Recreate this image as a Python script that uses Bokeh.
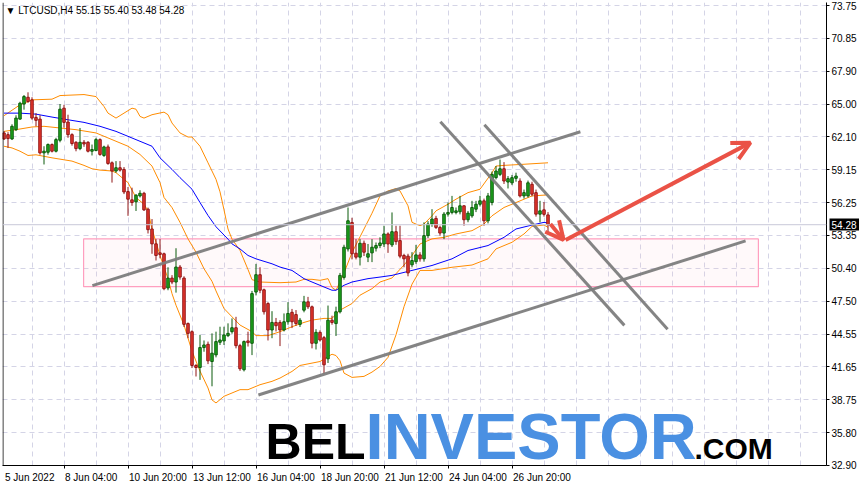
from bokeh.plotting import figure
from bokeh.models import (Range1d, FixedTicker, PrintfTickFormatter, Span, Label,
                          Arrow, OpenHead, ColumnDataSource, LinearAxis)
from bokeh.core.properties import value
from bokeh.embed import file_html
from bokeh.resources import INLINE

# ---------------- data (H4 bars, LTCUSD) ----------------
opens = [62.43, 62.28, 61.90, 62.72, 63.66, 65.00, 65.60, 65.37, 63.81, 63.66,
         60.66, 60.72, 61.40, 60.81, 61.78, 64.63, 63.40, 62.28, 61.60, 61.04,
         61.60, 61.60, 60.81, 60.87, 61.84, 60.43, 61.19, 59.78, 59.05, 59.34,
         59.19, 57.22, 56.49, 56.31, 56.84, 57.07, 55.66, 53.90, 52.58, 51.78,
         51.70, 48.66, 49.54, 49.19, 50.52, 49.54, 45.50, 44.78, 41.78, 41.60,
         43.37, 43.66, 42.13, 42.72, 43.84, 43.96, 44.43, 44.78, 45.13, 43.54,
         41.40, 43.96, 43.75, 48.30, 49.84, 48.50, 47.28, 44.93, 45.60, 45.60,
         44.93, 45.66, 46.50, 46.30, 45.43, 46.69, 47.43, 46.99, 43.75, 44.72,
         44.25, 42.37, 45.80, 45.50, 46.55, 49.60, 52.13, 54.48, 51.75, 51.40,
         52.63, 51.40, 51.78, 52.20, 52.43, 52.57, 53.46, 52.49, 53.66, 52.87,
         51.55, 51.49, 50.72, 51.00, 51.60, 51.25, 53.31, 54.34, 54.84, 54.04,
         53.54, 55.22, 55.37, 55.37, 55.43, 55.96, 54.72, 55.07, 55.66, 56.10,
         56.40, 54.63, 56.25, 58.46, 58.75, 59.25, 58.07, 58.00, 58.40, 58.16,
         56.84, 56.84, 57.87, 57.13, 55.22, 55.60, 55.15]
highs = [62.60, 62.50, 63.20, 64.00, 65.20, 65.80, 66.04, 65.60, 64.19, 64.00,
         61.25, 61.50, 61.50, 62.00, 65.00, 64.93, 64.05, 62.40, 61.70, 62.87,
         61.80, 61.70, 61.40, 62.00, 61.95, 61.30, 61.40, 59.90, 59.93, 59.93,
         59.40, 57.63, 57.57, 57.00, 57.34, 57.20, 55.80, 54.78, 53.00, 53.00,
         51.80, 50.50, 49.80, 52.19, 50.70, 49.70, 45.60, 44.90, 41.90, 44.50,
         44.00, 43.90, 44.63, 44.78, 45.22, 45.22, 45.52, 45.96, 46.10, 43.70,
         44.00, 44.78, 48.40, 50.80, 50.50, 48.60, 47.40, 46.60, 46.00, 45.80,
         46.40, 47.40, 46.80, 46.70, 46.00, 47.96, 47.87, 47.10, 45.00, 44.90,
         44.40, 47.10, 46.20, 47.00, 50.00, 52.50, 55.81, 54.90, 53.00, 53.00,
         52.87, 52.57, 53.00, 52.70, 53.16, 54.19, 53.60, 55.37, 54.19, 54.19,
         51.70, 51.70, 51.84, 52.49, 51.84, 54.49, 54.60, 55.66, 55.07, 54.20,
         55.40, 56.25, 56.84, 55.81, 56.84, 56.00, 55.50, 56.40, 56.40, 56.84,
         56.60, 57.10, 59.00, 59.49, 60.07, 59.84, 58.60, 58.70, 58.90, 58.40,
         57.40, 58.20, 58.10, 57.40, 56.40, 56.30, 55.40]
lows = [61.80, 61.10, 61.80, 62.60, 63.60, 64.50, 65.10, 63.60, 63.02, 60.50,
        59.63, 60.50, 60.70, 60.70, 61.60, 62.90, 62.00, 61.30, 60.80, 60.90,
        61.20, 60.70, 60.43, 60.80, 60.40, 60.30, 59.60, 58.02, 58.90, 59.00,
        57.00, 55.07, 55.96, 55.50, 56.70, 55.50, 53.50, 51.70, 51.10, 51.30,
        48.46, 48.46, 49.00, 48.25, 49.40, 45.20, 44.20, 41.55, 40.80, 40.50,
        43.00, 41.90, 39.93, 42.50, 43.60, 43.60, 44.30, 44.60, 43.30, 41.30,
        41.25, 43.46, 42.70, 48.00, 48.20, 46.30, 44.00, 44.20, 44.80, 43.50,
        44.80, 45.40, 45.10, 45.30, 45.20, 46.50, 46.80, 43.30, 43.20, 43.90,
        41.00, 42.00, 45.40, 44.40, 46.40, 49.40, 51.90, 51.20, 51.20, 50.66,
        51.50, 50.96, 50.96, 51.90, 52.20, 52.30, 51.78, 52.30, 52.50, 51.30,
        50.50, 49.70, 50.50, 50.80, 51.00, 51.00, 53.10, 54.10, 53.90, 53.30,
        53.00, 55.00, 55.20, 55.20, 55.20, 54.19, 54.50, 54.90, 55.40, 55.90,
        54.19, 54.40, 56.00, 58.30, 58.60, 57.90, 57.50, 57.80, 58.10, 56.70,
        56.60, 56.70, 56.80, 55.00, 54.49, 55.00, 53.48]
closes = [61.90, 61.93, 63.02, 63.75, 65.07, 65.66, 65.22, 63.75, 63.55, 60.66,
          60.81, 61.40, 60.81, 61.84, 64.54, 63.37, 62.28, 61.49, 61.04, 61.60,
          61.45, 60.81, 60.96, 61.84, 60.52, 61.19, 59.72, 59.05, 59.34, 59.13,
          57.19, 56.55, 56.25, 56.90, 57.07, 55.60, 53.84, 52.58, 51.55, 51.64,
          48.60, 49.54, 49.19, 50.52, 49.63, 45.43, 44.63, 41.78, 41.60, 43.37,
          43.60, 42.19, 42.87, 43.90, 44.04, 44.49, 44.63, 45.13, 43.54, 41.49,
          43.90, 43.81, 48.16, 49.84, 48.46, 46.55, 44.93, 45.60, 45.31, 44.93,
          45.66, 46.40, 45.66, 45.50, 45.80, 47.43, 46.99, 43.75, 44.72, 44.04,
          41.84, 45.80, 45.60, 46.55, 49.78, 52.28, 54.63, 51.70, 51.40, 52.63,
          51.84, 51.70, 52.28, 52.43, 52.66, 53.46, 52.57, 53.66, 52.78, 51.49,
          51.25, 50.00, 51.10, 51.60, 51.25, 53.31, 54.34, 54.78, 54.04, 53.54,
          55.22, 55.37, 55.81, 55.51, 55.96, 54.72, 55.31, 55.81, 56.10, 56.40,
          54.63, 56.84, 58.75, 59.05, 59.25, 58.16, 58.37, 58.46, 58.60, 56.84,
          57.13, 58.00, 56.99, 55.22, 55.51, 55.20, 54.28]

# Bollinger bands (20) and moving average, read at sampled bars
upper_idx = [0, 4, 7, 12, 14, 20, 23, 25, 26, 28, 30, 32, 33, 34, 35, 37, 40, 41, 42, 44,
             46, 47, 49, 51, 53, 54, 55, 56, 57, 59, 61, 62, 64, 69, 73, 75, 77, 79, 81, 82,
             83, 84, 85, 87, 89, 92, 94, 96, 98, 99, 101, 102, 104, 105, 107, 108, 111, 113,
             116, 119, 122, 123, 125, 130, 136]
upper_val = [63.96, 64.93, 65.37, 65.43, 65.75, 65.84, 65.66, 64.78, 64.19, 63.75, 64.19,
             64.63, 64.54, 63.90, 63.75, 64.05, 64.28, 64.05, 63.31, 62.43, 62.07, 62.07,
             61.25, 59.78, 58.31, 57.20, 55.60, 53.90, 53.00, 52.00, 50.30, 49.40, 49.19,
             49.13, 49.19, 49.43, 49.43, 49.34, 49.49, 48.70, 48.46, 49.20, 50.00, 51.80,
             53.20, 55.30, 56.84, 57.28, 57.49, 57.28, 55.96, 54.49, 54.19, 54.34, 55.07,
             55.51, 56.10, 56.55, 57.13, 57.43, 58.90, 59.49, 59.55, 59.65, 59.78]
middle_idx = [0, 3, 7, 10, 14, 18, 23, 27, 31, 34, 37, 39, 40, 42, 44, 46, 48, 50, 52, 53,
              55, 57, 59, 62, 63, 66, 69, 72, 75, 77, 80, 82, 84, 87, 89, 92, 94, 97, 100,
              102, 104, 107, 110, 113, 117, 120, 122, 125, 128, 132, 136]
middle_val = [62.57, 62.72, 62.96, 63.02, 62.87, 62.72, 62.43, 61.84, 61.25, 60.52, 59.49,
              58.02, 56.70, 55.80, 54.49, 53.02, 51.84, 50.37, 49.25, 48.40, 46.84, 46.10,
              45.37, 44.78, 44.43, 44.43, 44.78, 45.22, 45.60, 45.81, 45.96, 45.96, 46.69,
              47.28, 48.02, 48.60, 49.19, 49.55, 50.70, 51.55, 52.57, 53.02, 53.16, 53.46,
              53.75, 54.34, 55.07, 55.81, 56.25, 56.84, 56.93]
lower_idx = [0, 2, 4, 6, 8, 12, 17, 20, 22, 24, 27, 28, 31, 33, 35, 36, 37, 39, 41, 42,
             43, 45, 47, 49, 51, 52, 53, 55, 59, 61, 64, 67, 69, 72, 74, 77, 79, 81, 82, 83,
             84, 85, 87, 90, 92, 94, 96, 98, 100, 102, 104, 107, 112, 117, 121, 123, 127,
             130, 132, 135, 136]
lower_val = [61.25, 61.10, 60.81, 60.43, 60.49, 60.22, 59.93, 59.55, 59.25, 59.13, 59.05,
             58.90, 58.02, 56.69, 56.10, 55.51, 53.90, 51.55, 49.49, 48.16, 47.13, 45.37,
             43.05, 41.28, 39.78, 38.72, 38.45, 39.04, 39.63, 39.63, 40.07, 40.37, 40.66,
             41.25, 41.78, 41.99, 42.13, 42.57, 42.78, 42.66, 42.20, 41.10, 40.72, 40.81,
             41.19, 41.69, 42.50, 44.50, 47.00, 49.00, 50.22, 50.22, 50.50, 50.70, 51.25,
             52.13, 52.72, 53.46, 54.13, 54.25, 54.05]
ma_idx = [0, 4, 8, 12, 16, 20, 24, 28, 31, 34, 37, 39, 42, 44, 47, 49, 51, 53, 56, 57,
          59, 61, 63, 67, 69, 72, 75, 77, 80, 82, 83, 85, 87, 91, 94, 97, 102, 107, 112,
          116, 121, 125, 128, 132, 135, 136]
ma_val = [64.19, 64.19, 64.10, 63.84, 63.60, 63.37, 63.02, 62.57, 62.13, 61.69, 61.25,
          60.22, 59.19, 58.46, 57.43, 56.25, 55.10, 54.10, 53.00, 52.58, 52.13, 51.55,
          51.25, 50.81, 50.52, 50.22, 49.49, 49.19, 48.75, 48.46, 48.46, 48.90, 49.19,
          49.49, 49.63, 49.78, 50.22, 50.66, 51.25, 51.99, 52.43, 53.16, 53.90, 54.25,
          54.49, 54.43]

# axis ticks
price_ticks = [73.75, 70.85, 67.90, 65.00, 62.10, 59.15, 56.25, 53.35, 50.40, 47.50,
               44.55, 41.65, 38.75, 35.80, 32.90]
time_tick_bars = [0, 15, 31, 47, 63, 79, 95, 111, 127]
time_tick_labels = ["5 Jun 2022", "8 Jun 04:00", "10 Jun 20:00", "13 Jun 12:00",
                    "16 Jun 04:00", "18 Jun 20:00", "21 Jun 12:00", "24 Jun 04:00",
                    "26 Jun 20:00"]
grid_bars = [7 + 8 * k for k in range(26)]
last_price = 54.28
title_text = "\u25bc LTCUSD,H4  55.15 55.40 53.48 54.28"

# drawn objects (bar index, price)
trend_x0 = [22.1, 63.6, 109.1, 120.1]
trend_y0 = [48.87, 39.16, 63.43, 63.16]
trend_x1 = [144.1, 185.4, 155.1, 165.9]
trend_y1 = [62.54, 52.84, 45.34, 44.99]
zone_left, zone_right, zone_top, zone_bottom = 19.9, 188.6, 53.02, 48.78
arrow1 = (136.6, 54.35, 139.9, 52.93)
arrow2 = (140.4, 52.93, 186.6, 61.57)

# ---------------- figure ----------------
FRAME_W = 824
X0, X1 = -0.375, 205.625
px_per_bar = FRAME_W / (X1 - X0)

p = figure(frame_width=FRAME_W, frame_height=463, output_backend="svg", toolbar_location=None,
           x_range=Range1d(X0, X1), y_range=Range1d(32.895, 74.016),
           y_axis_location="right", min_border_left=2, min_border_top=2,
           min_border_right=0, min_border_bottom=0, background_fill_color="white",
           border_fill_color="white")
p.outline_line_color = None

# price axis
ya = p.yaxis[0]
ya.ticker = FixedTicker(ticks=price_ticks)
ya.formatter = PrintfTickFormatter(format="%.2f")
ya.major_label_text_font = "Liberation Sans"
ya.major_label_text_font_size = "10px"
ya.major_label_text_color = "black"
ya.major_tick_out = 3
ya.major_tick_in = 0
ya.minor_tick_out = 0
ya.minor_tick_in = 0
ya.major_label_standoff = 2
ya.axis_line_color = "black"
ya.major_tick_line_color = "black"

# last price tag: an extra right axis whose single tick is drawn as a black box
tag = LinearAxis(ticker=FixedTicker(ticks=[last_price]),
                 major_label_overrides={last_price: "54.28"},
                 axis_line_color=None, major_tick_in=30, major_tick_out=0,
                 major_tick_line_width=12, major_tick_line_color="black",
                 minor_tick_in=0, minor_tick_out=0,
                 major_label_text_color="white", major_label_text_font="Liberation Sans",
                 major_label_text_font_size="10px", major_label_standoff=-28)
p.add_layout(tag, "right")

# time axis: labels start at the tick, as in the terminal
char_w = {"0": .556, "1": .556, "2": .556, "3": .556, "4": .556, "5": .556, "6": .556,
          "7": .556, "8": .556, "9": .556, " ": .278, ":": .278, "J": .5, "u": .556, "n": .556}
label_centres = []
for b, t in zip(time_tick_bars, time_tick_labels):
    w = sum(char_w.get(ch, .556) for ch in t) * 10.0
    label_centres.append(b + (w / 2.0 + 1.0) / px_per_bar)
xa = p.xaxis[0]
xa.ticker = FixedTicker(ticks=label_centres, minor_ticks=time_tick_bars[1:])
xa.major_label_overrides = {c: t for c, t in zip(label_centres, time_tick_labels)}
xa.major_label_text_font = "Liberation Sans"
xa.major_label_text_font_size = "10px"
xa.major_label_text_color = "black"
xa.major_tick_out = 0
xa.major_tick_in = 0
xa.minor_tick_out = 3
xa.minor_tick_in = 0
xa.minor_tick_line_color = "black"
xa.axis_line_color = "black"
xa.major_label_standoff = 3

p.ygrid.grid_line_color = "#d4d4e6"
p.ygrid.grid_line_dash = "5 4"
p.xgrid.ticker = FixedTicker(ticks=grid_bars)
p.xgrid.grid_line_color = "#d4d4e6"
p.xgrid.grid_line_dash = "5 4"

# left frame border
p.add_layout(Span(location=X0 + 0.12, dimension="height", line_color="black", line_width=1))

# pink zone
p.quad(left=[zone_left], right=[zone_right], top=[zone_top], bottom=[zone_bottom],
       fill_color="#ffc0d0", fill_alpha=0.10, line_color="#ff9fbf", line_width=1.2)

# last price line
p.add_layout(Span(location=last_price, dimension="width", line_color="#c8c8d8", line_width=1))

# indicator lines
p.line(upper_idx, upper_val, line_color="#ff8c00", line_width=1)
p.line(middle_idx, middle_val, line_color="#ff8c00", line_width=1)
p.line(lower_idx, lower_val, line_color="#ff8c00", line_width=1)
p.line(ma_idx, ma_val, line_color="#0000ff", line_width=1)

# candles
bars = list(range(len(opens)))
up = [c >= o for o, c in zip(opens, closes)]
src = ColumnDataSource(dict(
    x=bars, h=highs, l=lows,
    top=[max(o, c) for o, c in zip(opens, closes)],
    bottom=[min(o, c) for o, c in zip(opens, closes)],
    fill=["#1fa81f" if u else "#e8372d" for u in up],
    line=["#0b5a0b" if u else "#8f1515" for u in up],
))
p.segment(x0="x", y0="h", x1="x", y1="l", line_color="line", line_width=1, source=src)
p.vbar(x="x", width=0.62, top="top", bottom="bottom", fill_color="fill",
       line_color="line", line_width=1, source=src)

# trend lines
p.segment(x0=trend_x0, y0=trend_y0, x1=trend_x1, y1=trend_y1,
          line_color="#7d7d7d", line_width=3, line_alpha=0.95)

# arrows
red = "#ea5246"
for (xs, ys, xe, ye) in (arrow1, arrow2):
    p.add_layout(Arrow(end=OpenHead(size=18, line_color=red, line_width=4),
                       x_start=xs, y_start=ys, x_end=xe, y_end=ye,
                       line_color=red, line_width=4))

# logo
logo_font = value("Liberation Sans")
p.text(x=[65.4], y=[35.02], text=["BEL"], text_font=logo_font,
       text_font_style="bold", text_font_size="50px", text_color="black",
       text_baseline="middle", text_align="left")
p.text(x=[90.4], y=[35.50], text=["INVESTOR"], text_font=logo_font,
       text_font_style="bold", text_font_size="65px", text_color="#4a90e2",
       text_baseline="middle", text_align="left")
p.text(x=[172.6], y=[34.40], text=[".COM"], text_font=logo_font,
       text_font_style="bold", text_font_size="30px", text_color="black",
       text_baseline="middle", text_align="left")

# title
p.add_layout(Label(x=0.4, y=73.3, text=title_text, text_font="Liberation Sans",
                   text_font_size="10px", text_color="black", text_baseline="middle"))

open("out.html", "w").write(file_html(p, INLINE))
